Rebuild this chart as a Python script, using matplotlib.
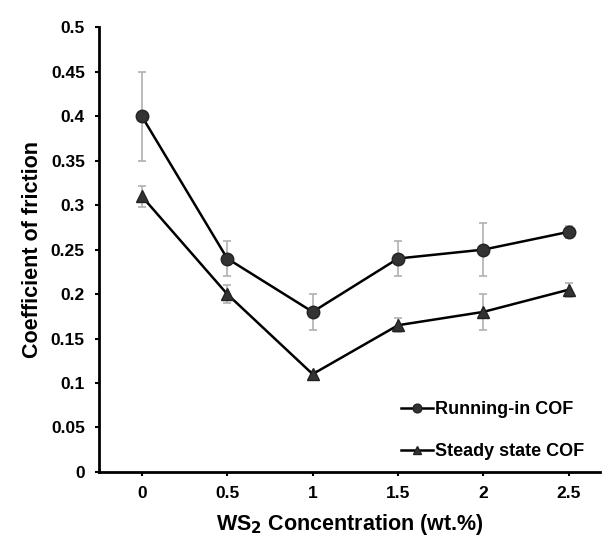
import numpy as np
import matplotlib
matplotlib.use("Agg")
import matplotlib.pyplot as plt

plt.rcParams['font.family'] = ['Liberation Sans', 'DejaVu Sans']
plt.rcParams['font.weight'] = 'bold'

ws2 = [0, 0.5, 1, 1.5, 2, 2.5]
running_in = [0.40, 0.24, 0.18, 0.24, 0.25, 0.27]
running_err = [0.05, 0.02, 0.02, 0.02, 0.03, 0.007]
steady = [0.31, 0.20, 0.11, 0.165, 0.18, 0.205]
steady_err = [0.012, 0.01, 0.004, 0.008, 0.02, 0.008]
yticks = [0, 0.05, 0.1, 0.15, 0.2, 0.25, 0.3, 0.35, 0.4, 0.45, 0.5]
xticks = [0, 0.5, 1, 1.5, 2, 2.5]

fig = plt.figure(figsize=(6.02, 5.45), dpi=100)
ax = fig.add_axes([0.164, 0.134, 0.833, 0.816])

ax.errorbar(ws2, running_in, yerr=running_err, fmt='none', ecolor='#b0b0b0',
            elinewidth=1.2, capsize=3, capthick=1.2, zorder=1)
ax.errorbar(ws2, steady, yerr=steady_err, fmt='none', ecolor='#b0b0b0',
            elinewidth=1.2, capsize=3, capthick=1.2, zorder=1)
ax.plot(ws2, running_in, '-o', color='black', lw=1.8, ms=9,
        markerfacecolor='#333333', markeredgecolor='#222222', label='Running-in COF', zorder=3)
ax.plot(ws2, steady, '-^', color='black', lw=1.8, ms=8,
        markerfacecolor='#333333', markeredgecolor='#222222', label='Steady state COF', zorder=3)

ax.set_xlim(-0.252, 2.683)
ax.set_ylim(0, 0.5)
ax.set_xticks(xticks)
ax.set_xticklabels(['0', '0.5', '1', '1.5', '2', '2.5'])
ax.set_yticks(yticks)
ax.set_yticklabels(['0', '0.05', '0.1', '0.15', '0.2', '0.25', '0.3', '0.35', '0.4', '0.45', '0.5'])
ax.tick_params(labelsize=12.5, direction='out', length=3, width=1.5, pad=7)

ax.spines['top'].set_visible(False)
ax.spines['right'].set_visible(False)
ax.spines['left'].set_linewidth(2)
ax.spines['bottom'].set_linewidth(2)

ax.set_ylabel('Coefficient of friction', fontsize=15.5, fontweight='bold', labelpad=6)
ax.set_xlabel('WS$_\\mathbf{2}$ Concentration (wt.%)', fontsize=15.5, fontweight='bold', labelpad=8)

ax.legend(loc='lower right', bbox_to_anchor=(1.0, -0.01), frameon=False, fontsize=13,
          handlelength=1.8, handletextpad=0.1, labelspacing=1.4, markerscale=0.7)

fig.savefig('out.png', dpi=100)
